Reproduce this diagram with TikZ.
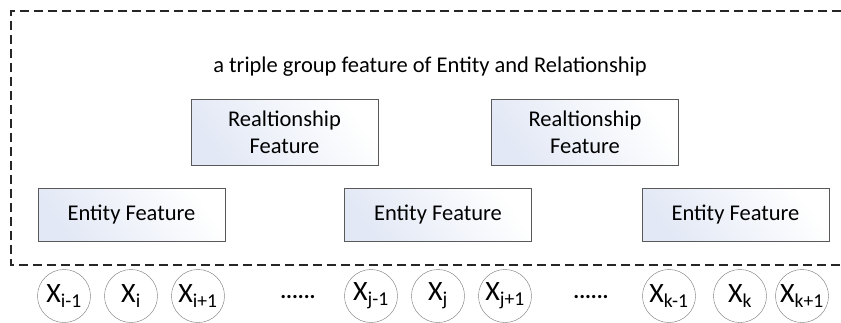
\documentclass[tikz,border=0pt]{standalone}
\usepackage{fontspec}
\setmainfont{Carlito}
\usepackage{tikz}
\usetikzlibrary{positioning}
\definecolor{featfill}{RGB}{226,232,245}

\begin{document}
\begin{tikzpicture}[
    x=1pt, y=-1pt,
    feat/.style={draw=black!65, left color=featfill, right color=white, shading angle=125,
      align=center, minimum width=187pt, inner sep=0pt, font=\fontsize{22.5}{27}\selectfont},
    token/.style={draw=black!55, circle, minimum size=53pt, inner sep=0pt, font=\fontsize{28}{30}\selectfont},
    dots/.style={anchor=base, font=\bfseries\fontsize{22}{26}\selectfont},
    frame/.style={dash pattern=on 9pt off 5pt, line width=1.2pt, black!85}
  ]
    \useasboundingbox (0,0) rectangle (841,322);

    % dashed group
    \draw[frame] (841,11) -- (11,11) -- (11,265) -- (841,265);
    \node[font=\fontsize{22.5}{27}\selectfont] (title) at (430,67) {a triple group feature of Entity and Relationship};

    % relationship features
    \node[feat, minimum height=66pt] (rel1) at (284.5,132) {Realtionship\\Feature};
    \node[feat, minimum height=66pt] (rel2) at (585,132) {Realtionship\\Feature};

    % entity features
    \node[feat, minimum height=53pt] (ent1) at (131.5,214.5) {Entity Feature};
    \node[feat, minimum height=53pt] (ent2) at (438,214.5) {Entity Feature};
    \node[feat, minimum height=53pt] (ent3) at (735.5,214.5) {Entity Feature};

    % tokens
    \node[token] (xi0) at (64,296) {X\textsubscript{i-1}};
    \node[token] (xi1) at (131,296) {X\textsubscript{i}};
    \node[token] (xi2) at (198,296) {X\textsubscript{i+1}};
    \node[dots] (dots1) at (298,298) {......};
    \node[token] (xj0) at (371,296) {X\textsubscript{j-1}};
    \node[token] (xj1) at (438,296) {X\textsubscript{j}};
    \node[token] (xj2) at (505,296) {X\textsubscript{j+1}};
    \node[dots] (dots2) at (591,298) {......};
    \node[token] (xk0) at (669,296) {X\textsubscript{k-1}};
    \node[token] (xk1) at (740,296) {X\textsubscript{k}};
    \node[token] (xk2) at (802,296) {X\textsubscript{k+1}};
\end{tikzpicture}
\end{document}
